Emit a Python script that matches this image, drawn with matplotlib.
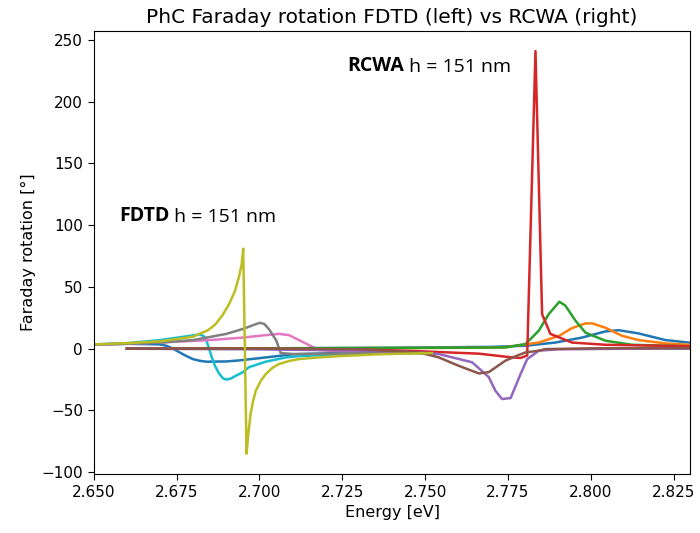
import matplotlib.pyplot as plt
import numpy as np

# FDTD curves (left side)
e_fdtd_blue = [2.645, 2.66, 2.6699, 2.6719, 2.674, 2.6759, 2.678, 2.6799, 2.682, 2.684, 2.69, 2.6938, 2.7001, 2.7101, 2.724, 2.736, 2.752]
fr_fdtd_blue = [3, 4, 3.5, 2.4, 0, -3, -6, -8.4, -9.8, -10.5, -10.3, -9.5, -7.6, -4.5, -3.5, -3, -3]

e_fdtd_cyan = [2.645, 2.66, 2.67, 2.6779, 2.6805, 2.682, 2.683, 2.6838, 2.6847, 2.6855, 2.6866, 2.6878, 2.689, 2.690, 2.6915, 2.6928,
               2.695, 2.6968, 2.7019, 2.7081, 2.7119, 2.724, 2.736, 2.752]
fr_fdtd_cyan = [3, 4.5, 7, 10, 11, 11.5, 10.5, 8, 1, -6, -14, -20, -24, -25, -24, -22,
                -19, -15, -10.5, -7, -6, -4.5, -4, -3.5]

e_fdtd_gray = [2.645, 2.66, 2.67, 2.68, 2.69, 2.695, 2.698, 2.7001, 2.7015, 2.7031, 2.7051, 2.7064, 2.7101, 2.724, 2.736, 2.752]
fr_fdtd_gray = [3, 4, 5, 7, 12, 16, 19, 21, 20, 15, 6.5, -3.5, -4.3, -4, -3.5, -3.5]

e_fdtd_pink = [2.645, 2.66, 2.67, 2.685, 2.695, 2.7019, 2.7059, 2.7089, 2.7119, 2.7149, 2.7179, 2.724, 2.736, 2.752]
fr_fdtd_pink = [3, 4, 5, 7, 9, 11, 12, 11, 7, 3, -1, -2, -2.5, -3]

e_fdtd_olive = [2.645, 2.66, 2.67, 2.68, 2.6818, 2.6845, 2.6868, 2.6888, 2.6908, 2.6925, 2.6938, 2.6946, 2.6951,
                2.6961, 2.6966, 2.6973, 2.6981, 2.6989, 2.7004, 2.7019, 2.7039, 2.7059, 2.7089, 2.7119, 2.718, 2.724, 2.736, 2.752]
fr_fdtd_olive = [3, 4.5, 6, 9.7, 12, 15, 20, 27, 36, 46, 58, 68, 81,
                 -85, -70, -53, -42, -34, -26, -20.5, -15.5, -12.4, -10, -8.4, -7, -6, -4.5, -3.5]

# RCWA curves (right side)
e_rcwa_blue = [2.66, 2.70, 2.74, 2.77, 2.7803, 2.7893, 2.7973, 2.8044, 2.8084, 2.8144, 2.8225, 2.8295, 2.835]
fr_rcwa_blue = [0, 0.3, 0.8, 1.5, 2.4, 5, 9, 14, 15, 12.4, 7, 5, 4]

e_rcwa_orange = [2.66, 2.70, 2.74, 2.77, 2.7742, 2.7843, 2.7905, 2.7943, 2.7984, 2.8004, 2.8044, 2.8094, 2.8144, 2.8225, 2.8295, 2.835]
fr_rcwa_orange = [0, 0.2, 0.5, 0.8, 1.2, 5, 10.5, 16.7, 20.5, 20.5, 17, 10.5, 7, 4.3, 3.2, 2.8]

e_rcwa_green = [2.66, 2.70, 2.74, 2.7742, 2.7803, 2.7843, 2.7873, 2.7905, 2.7923, 2.7954, 2.7984, 2.8044, 2.8124, 2.8295, 2.835]
fr_rcwa_green = [0, 0.3, 0.6, 1, 3.8, 14.6, 28, 38, 35, 22.6, 13, 6.5, 3.2, 2, 1.8]

e_rcwa_red = [2.66, 2.70, 2.73, 2.748, 2.7662, 2.7761, 2.7788, 2.7808, 2.7833, 2.7853, 2.7878, 2.7943, 2.8044, 2.8295, 2.835]
fr_rcwa_red = [0, 0, -0.5, -2, -4, -7, -7.5, -5.5, 241, 28, 12, 5, 3.2, 2, 2]

e_rcwa_purple = [2.66, 2.70, 2.73, 2.7481, 2.7541, 2.7642, 2.7692, 2.7712, 2.7732, 2.7758, 2.7788, 2.7808, 2.7843, 2.79, 2.81, 2.835]
fr_rcwa_purple = [0, -0.5, -1.5, -3, -4.3, -11, -23, -34, -40.7, -40, -20.5, -8.4, -1.6, -0.5, 0, 0]

e_rcwa_brown = [2.66, 2.70, 2.73, 2.7481, 2.7541, 2.7601, 2.7662, 2.7692, 2.7742, 2.7783, 2.7803, 2.7843, 2.7863, 2.80, 2.835]
fr_rcwa_brown = [0, 0, -0.5, -3, -7, -13.8, -20, -19, -9.7, -5, -3, -1.6, -0.3, 0.3, 0.5]

plt.rcParams['xtick.labelsize'] = 11
plt.rcParams['ytick.labelsize'] = 11
plt.rcParams['xtick.major.size'] = 4.2
plt.rcParams['ytick.major.size'] = 4.2

fig = plt.figure(figsize=(7, 5.33), dpi=100)
ax = fig.add_subplot(111)
fig.subplots_adjust(left=0.134, right=0.986, top=0.942, bottom=0.111)

lw = 1.8
ax.plot(e_fdtd_blue, fr_fdtd_blue, color='tab:blue', lw=lw)
ax.plot(e_fdtd_cyan, fr_fdtd_cyan, color='tab:cyan', lw=lw)
ax.plot(e_fdtd_pink, fr_fdtd_pink, color='tab:pink', lw=lw)
ax.plot(e_fdtd_gray, fr_fdtd_gray, color='tab:gray', lw=lw)

ax.plot(e_rcwa_blue, fr_rcwa_blue, color='tab:blue', lw=lw)
ax.plot(e_rcwa_orange, fr_rcwa_orange, color='tab:orange', lw=lw)
ax.plot(e_rcwa_green, fr_rcwa_green, color='tab:green', lw=lw)
ax.plot(e_rcwa_red, fr_rcwa_red, color='tab:red', lw=lw)
ax.plot(e_rcwa_purple, fr_rcwa_purple, color='tab:purple', lw=lw)
ax.plot(e_rcwa_brown, fr_rcwa_brown, color='tab:brown', lw=lw)

ax.plot(e_fdtd_olive, fr_fdtd_olive, color='tab:olive', lw=lw)

ax.set_xlim(2.65, 2.83)
ax.set_xlabel("Energy [eV]", fontsize=11.5)
ax.set_ylabel("Faraday rotation [°]", fontsize=11.5)
ax.set_title("PhC Faraday rotation FDTD (left) vs RCWA (right)", fontsize=14.5)

# labels pasted on the plot
t1 = ax.text(2.6576, 103.6, "FDTD", fontfamily='Open Sans', fontweight='bold', fontsize=14, va='baseline')
ax.annotate(" h = 151 nm", xy=(1, 0), xycoords=t1, va='bottom', fontfamily='Open Sans', fontsize=14)
t2 = ax.text(2.7264, 225, "RCWA", fontfamily='Open Sans', fontweight='bold', fontsize=14, va='baseline')
ax.annotate(" h = 151 nm", xy=(1, 0), xycoords=t2, va='bottom', fontfamily='Open Sans', fontsize=14)

plt.savefig("out.png", dpi=100)
